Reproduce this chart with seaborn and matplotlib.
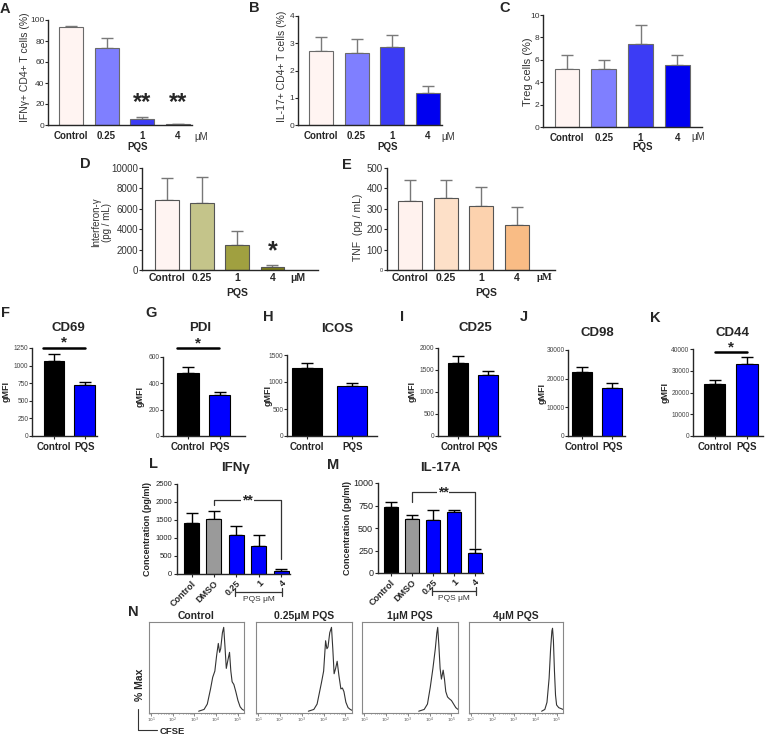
import numpy as np
import pandas as pd
import matplotlib
matplotlib.use("Agg")
import matplotlib.pyplot as plt
import matplotlib.transforms as mtrans
import seaborn as sns

# ── Data ──────────────────────────────────────────────────────────────────────
DOSES = ["Control", "0.25", "1", "4"]
ifng_pct = [93, 73, 5.4, 0.6]
ifng_pct_err = [1.5, 9.5, 2.5, 0.3]
il17_pct = [2.72, 2.63, 2.85, 1.19]
il17_pct_err = [0.52, 0.51, 0.44, 0.24]
treg_pct = [5.2, 5.2, 7.4, 5.5]
treg_pct_err = [1.25, 0.8, 1.75, 0.95]
ifng_conc = [6850, 6600, 2450, 280]
ifng_conc_err = [2200, 2480, 1400, 180]
tnf_conc = [336, 352, 315, 222]
tnf_conc_err = [103, 87, 90, 85]

PAIR = ["Control", "PQS"]
cd69 = [1070, 718]
cd69_err = [95, 52]
pdi = [475, 315]
pdi_err = [50, 20]
icos = [1265, 930]
icos_err = [85, 60]
cd25 = [1670, 1380]
cd25_err = [140, 90]
cd98 = [22500, 16600]
cd98_err = [1500, 1800]
cd44 = [24000, 33200]
cd44_err = [1800, 3300]

SECR = ["Control", "DMSO", "0.25", "1", "4"]
ifng_secr = [1420, 1530, 1090, 770, 90]
ifng_secr_err = [270, 230, 230, 300, 50]
il17a_secr = [730, 605, 590, 680, 225]
il17a_secr_err = [55, 40, 105, 15, 40]

# CFSE histograms (log10 CFSE, fraction of max)
cfse_titles = ["Control", "0.25μM PQS", "1μM PQS", "4μM PQS"]
cfse_ctrl_x = [3.2, 3.45, 3.6, 3.75, 3.85, 3.95, 4.03, 4.11, 4.17, 4.22, 4.3, 4.36,
               4.42, 4.48, 4.56, 4.63, 4.69, 4.75, 4.83, 4.92, 5.02, 5.12, 5.22, 5.3]
cfse_ctrl_y = [0.0, 0.02, 0.08, 0.25, 0.38, 0.45, 0.62, 0.76, 0.66, 0.7, 0.88, 0.94,
               0.72, 0.48, 0.58, 0.66, 0.45, 0.33, 0.3, 0.22, 0.12, 0.05, 0.02, 0.01]
cfse_025_x = [3.3, 3.55, 3.7, 3.8, 3.9, 4.0, 4.09, 4.15, 4.2, 4.28, 4.36, 4.42,
              4.48, 4.55, 4.62, 4.7, 4.79, 4.86, 4.93, 5.02, 5.12, 5.22, 5.3]
cfse_025_y = [0.0, 0.02, 0.08, 0.2, 0.32, 0.45, 0.79, 0.7, 0.72, 0.88, 0.94, 0.7,
              0.42, 0.48, 0.56, 0.4, 0.25, 0.26, 0.22, 0.1, 0.04, 0.02, 0.01]
cfse_1_x = [3.5, 3.75, 3.9, 4.03, 4.15, 4.26, 4.33, 4.37, 4.42, 4.48, 4.54, 4.62,
            4.68, 4.74, 4.82, 4.9, 5.0, 5.1, 5.2, 5.3]
cfse_1_y = [0.0, 0.02, 0.08, 0.27, 0.48, 0.7, 0.88, 0.94, 0.75, 0.48, 0.36, 0.46,
            0.36, 0.22, 0.16, 0.14, 0.12, 0.08, 0.04, 0.02]
cfse_4_x = [4.3, 4.45, 4.55, 4.65, 4.72, 4.78, 4.81, 4.85, 4.9, 4.95, 5.0, 5.1, 5.2, 5.3]
cfse_4_y = [0.0, 0.02, 0.1, 0.37, 0.7, 0.9, 0.93, 0.8, 0.45, 0.18, 0.07, 0.04, 0.03, 0.02]

BLUE_SHADES = ["#fff4f2", "#7f7fff", "#3c3cf5", "#0000f0"]
OLIVE_SHADES = ["#fff4f2", "#c4c48a", "#a0a040", "#7d7d1a"]
PEACH_SHADES = ["#fff2ee", "#fde0c8", "#fcd2ae", "#f9bc85"]
PAIR_COLORS = ["#000000", "#0000ff"]
SECR_COLORS = ["#000000", "#9a9a9a", "#0000ff", "#0000ff", "#0000ff"]

# ── Setup ─────────────────────────────────────────────────────────────────────
sns.set_style("ticks")
plt.rcParams["font.family"] = ["Liberation Sans", "DejaVu Sans"]
plt.rcParams["axes.linewidth"] = 1.0

W, H = 768, 735
fig = plt.figure(figsize=(W / 100, H / 100), dpi=100)


def axpx(x0, y0, x1, y1):
    return fig.add_axes([x0 / W, 1 - y1 / H, (x1 - x0) / W, (y1 - y0) / H])


def ftxt(x, y, s, **kw):
    kw.setdefault("ha", "center")
    kw.setdefault("va", "center")
    fig.text(x / W, 1 - y / H, s, **kw)


def bars(ax, cats, vals, errs, colors, edge, errc, lw=0.8):
    df = pd.DataFrame({"cond": cats, "val": vals})
    sns.barplot(data=df, x="cond", y="val", hue="cond", order=cats,
                palette=dict(zip(cats, colors)), legend=False, ax=ax,
                width=0.67, edgecolor=edge, linewidth=lw, errorbar=None,
                saturation=1)
    ax.errorbar(range(len(cats)), vals, yerr=[np.zeros(len(vals)), errs],
                fmt="none", ecolor=errc, elinewidth=1.0, capsize=4,
                capthick=1.0, zorder=0)
    ax.set_xlabel("")
    ax.set_ylabel("")
    sns.despine(ax=ax)


# ── A–C: intracellular cytokine % ─────────────────────────────────────────────
top_panels = [
    ((48, 20, 192, 125), ifng_pct, ifng_pct_err, (0, 100), np.arange(0, 101, 20),
     (-0.64, 3.39)),
    ((298, 16, 442, 125), il17_pct, il17_pct_err, (0, 4), np.arange(0, 5, 1),
     (-0.64, 3.39)),
    ((543, 15, 702, 127), treg_pct, treg_pct_err, (0, 10), np.arange(0, 11, 2),
     (-0.65, 3.67)),
]
for (box, v, e, yl, yt, xl) in top_panels:
    ax = axpx(*box)
    bars(ax, DOSES, v, e, BLUE_SHADES, "#6a6a6a", "#7a7a7a")
    ax.set_ylim(*yl)
    ax.set_yticks(yt)
    ax.set_xlim(*xl)
    ax.tick_params(axis="x", length=0, labelsize=7, pad=4)
    ax.tick_params(axis="y", length=2, width=0.8, labelsize=6, pad=0.5,
                   labelcolor="#333333")
    for t in ax.get_xticklabels():
        t.set_fontweight("bold")
    if box[0] == 48:
        for xi in (2, 3):
            ax.text(xi, 10, "**", ha="center", va="bottom", fontsize=17,
                    fontweight="bold")

ftxt(25, 67, "IFNγ+ CD4+ T cells (%)", rotation=90, fontsize=7.5, color="#333333")
ftxt(282, 66, "IL-17+ CD4+ T cells (%)", rotation=90, fontsize=7.5, color="#333333")
ftxt(528, 72, "Treg cells (%)", rotation=90, fontsize=8, color="#333333")
for x, y in [(138, 147), (388, 147), (643, 147)]:
    ftxt(x, y, "PQS", fontsize=7, fontweight="bold")
for x in (201, 448, 698):
    ftxt(x, 137, "μM", fontsize=7, color="#333333")

# ── D–E: secreted cytokines ───────────────────────────────────────────────────
axD = axpx(142, 168, 318, 270)
bars(axD, DOSES, ifng_conc, ifng_conc_err, OLIVE_SHADES, "#555555", "#777777")
axD.set_ylim(0, 10000)
axD.set_yticks(np.arange(0, 10001, 2000))
axD.set_xlim(-0.71, 4.3)
axD.text(3, 700, "*", ha="center", va="bottom", fontsize=18, fontweight="bold")

axE = axpx(387, 168, 555, 270)
bars(axE, DOSES, tnf_conc, tnf_conc_err, PEACH_SHADES, "#555555", "#777777")
axE.set_ylim(0, 500)
axE.set_yticks(np.arange(0, 501, 100))
axE.set_xlim(-0.64, 4.06)
for ax in (axD, axE):
    ax.tick_params(axis="x", length=0, labelsize=7.5, pad=2)
    ax.tick_params(axis="y", length=2, width=0.8, labelsize=7, pad=1,
                   labelcolor="#333333")
    for t in ax.get_xticklabels():
        t.set_fontweight("bold")
axE.get_yticklabels()[0].set_fontsize(4)

ftxt(102, 222, "Interferon-γ\n(pg / mL)", rotation=90, fontsize=7,
     color="#333333", linespacing=1.1)
ftxt(358, 227, "TNF  (pg / mL)", rotation=90, fontsize=7.5, color="#333333")
ftxt(237, 293, "PQS", fontsize=7.5, fontweight="bold")
ftxt(486, 293, "PQS", fontsize=7.5, fontweight="bold")
ftxt(298, 278, "μM", fontsize=7.5, fontweight="bold")
ftxt(545, 278, "μM", fontsize=7.5, fontweight="bold", family="Liberation Serif")

# ── F–K: surface markers (gMFI) ───────────────────────────────────────────────
pair_panels = [
    ("CD69", (32, 348, 97, 436), cd69, cd69_err, 1250, 250, (-0.72, 1.4),
     (68, 328), 6, (-0.35, 1.0, 1250, 1325)),
    ("PDI", (163, 357, 245, 436), pdi, pdi_err, 600, 200, (-0.79, 1.8),
     (200, 328), 140, (-0.35, 0.97, 671, 700)),
    ("ICOS", (287, 355, 377, 436), icos, icos_err, 1500, 500, (-0.44, 1.55),
     (337, 329), 268, None),
    ("CD25", (438, 348, 500, 436), cd25, cd25_err, 2000, 500, (-0.65, 1.4),
     (475, 328), 412, None),
    ("CD98", (568, 350, 625, 436), cd98, cd98_err, 30000, 10000, (-0.46, 1.42),
     (597, 333), 542, None),
    ("CD44", (693, 349, 763, 436), cd44, cd44_err, 40000, 10000, (-0.67, 1.5),
     (732, 333), 665, (0.0, 1.0, 38760, 40900)),
]
for (name, box, v, e, ymax, step, xl, tpos, ylx, sig) in pair_panels:
    ax = axpx(*box)
    bars(ax, PAIR, v, e, PAIR_COLORS, "#000000", "#000000")
    ax.set_ylim(0, ymax)
    ax.set_yticks(np.arange(0, ymax + 1, step))
    ax.set_xlim(*xl)
    ax.tick_params(axis="x", length=2.5, width=0.8, labelsize=7, pad=1.5)
    ax.tick_params(axis="y", length=2, width=0.8, labelsize=4.8, pad=0.5,
                   labelcolor="#444444")
    for t in ax.get_xticklabels():
        t.set_fontweight("bold")
    ftxt(tpos[0], tpos[1], name, fontsize=9.5, fontweight="bold")
    ftxt(ylx, (box[1] + box[3]) / 2, "gMFI", rotation=90, fontsize=6.5,
         fontweight="bold")
    if sig is not None:
        x0, x1, yline, ystar = sig
        ax.plot([x0, x1], [yline, yline], color="black", lw=1.8, clip_on=False)
        ax.text((x0 + x1) / 2, ystar, "*", ha="center", va="center",
                fontsize=11, fontweight="bold", clip_on=False)

# ── L–M: cytokine secretion ───────────────────────────────────────────────────
sec_panels = [
    ("IFNγ", (177, 484, 290, 574), ifng_secr, ifng_secr_err, 2500, 500,
     (-0.65, 4.4), (235, 468), 147, 5.5, (2055, 1916, 415), (1.95, 4.05)),
    ("IL-17A", (378, 483, 483, 573), il17a_secr, il17a_secr_err, 1000, 250,
     (-0.6, 4.4), (440, 468), 348, 6.5, (900, 790, 280), (1.95, 4.05)),
]
for (name, box, v, e, ymax, step, xl, tpos, ylx, ysz, sig, brk) in sec_panels:
    ax = axpx(*box)
    bars(ax, SECR, v, e, SECR_COLORS, "#000000", "#000000")
    ax.set_ylim(0, ymax)
    ax.set_yticks(np.arange(0, ymax + 1, step))
    ax.set_xlim(*xl)
    ax.tick_params(axis="x", length=2.5, width=0.8, labelsize=6.5, pad=1)
    ax.tick_params(axis="y", length=2.5, width=0.8, labelsize=ysz, pad=1,
                   labelcolor="#222222")
    for t in ax.get_xticklabels():
        t.set_fontweight("bold")
        t.set_rotation(45)
        t.set_ha("right")
        t.set_rotation_mode("anchor")
    ftxt(tpos[0], tpos[1], name, fontsize=9.5, fontweight="bold")
    ftxt(ylx, (box[1] + box[3]) / 2, "Concentration (pg/ml)", rotation=90,
         fontsize=6.5, fontweight="bold")
    ytop, yleft, yright = sig
    ax.plot([1, 1, 4, 4], [yleft, ytop, ytop, yright], color="#333333",
            lw=0.9, clip_on=False)
    ax.text(2.5, ytop, "**", ha="center", va="center", fontsize=10,
            fontweight="bold", bbox=dict(fc="white", ec="none", pad=0.5))
    tr = mtrans.blended_transform_factory(ax.transData, ax.transAxes)
    ax.plot([brk[0], brk[1]], [-0.2, -0.2], color="#333333", lw=0.9,
            transform=tr, clip_on=False)
    for xb in brk:
        ax.plot([xb, xb], [-0.16, -0.24], color="#333333", lw=0.9,
                transform=tr, clip_on=False)
    ax.text(sum(brk) / 2, -0.24, "PQS μM", transform=tr, ha="center", va="top",
            fontsize=6, color="#333333")

# ── N: CFSE dilution ──────────────────────────────────────────────────────────
cfse_curves = [(cfse_ctrl_x, cfse_ctrl_y), (cfse_025_x, cfse_025_y),
               (cfse_1_x, cfse_1_y), (cfse_4_x, cfse_4_y)]
cfse_boxes = [(149, 244), (256, 352), (362, 458), (469, 563)]
minor = np.concatenate([np.log10(np.arange(2, 10)) + d for d in range(0, 6)])
for (cx, cy), (x0, x1), title in zip(cfse_curves, cfse_boxes, cfse_titles):
    ax = axpx(x0, 622, x1, 713)
    sns.lineplot(x=cx, y=cy, ax=ax, color="#333333", lw=0.8, sort=False)
    ax.set_xlim(0.9, 5.3)
    ax.set_ylim(-0.02, 1.0)
    ax.set_yticks([])
    ax.set_xticks([1, 2, 3, 4, 5])
    ax.set_xticklabels([f"$10^{k}$" for k in range(1, 6)])
    ax.set_xticks(minor[(minor > 0.9) & (minor < 5.3)], minor=True)
    ax.tick_params(axis="x", which="major", length=1.8, width=0.5, labelsize=3.2,
                   pad=0.5, labelcolor="#555555", color="#555555")
    ax.tick_params(axis="x", which="minor", length=1, width=0.4, color="#555555")
    for s in ax.spines.values():
        s.set_color("#888888")
        s.set_linewidth(0.8)
    ax.set_title(title, fontsize=7.5, fontweight="bold", pad=2)

ftxt(140, 685, "% Max", rotation=90, fontsize=7.5, fontweight="bold")
fig.add_artist(plt.Line2D([138 / W, 138 / W, 157 / W],
                          [1 - 709 / H, 1 - 730 / H, 1 - 730 / H],
                          color="#333333", lw=0.8))
ftxt(160, 731, "CFSE", fontsize=6.8, fontweight="bold", ha="left")

# ── Panel letters ─────────────────────────────────────────────────────────────
letters = [("A", 5, 9), ("B", 254, 8), ("C", 505, 8), ("D", 85, 164),
           ("E", 347, 165), ("F", 5, 313), ("G", 151, 313), ("H", 268, 317),
           ("I", 402, 317), ("J", 524, 317), ("K", 655, 318), ("L", 153, 464),
           ("M", 333, 465), ("N", 133, 612)]
for s, x, y in letters:
    ftxt(x, y, s, fontsize=10.5, fontweight="bold")

fig.savefig("out.png", dpi=100)
